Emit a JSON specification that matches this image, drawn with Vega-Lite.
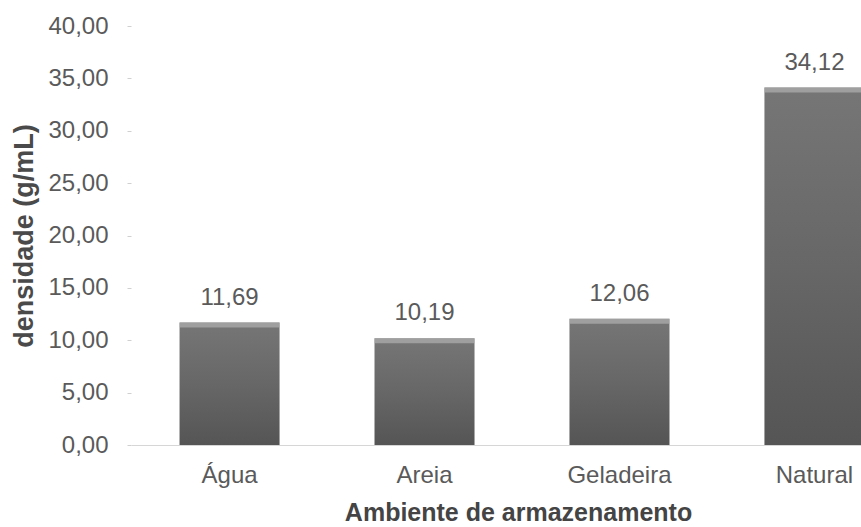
{
  "$schema": "https://vega.github.io/schema/vega-lite/v6.json",
  "width": 730,
  "height": 419,
  "autosize": {"type": "none"},
  "padding": {"left": 131, "top": 26, "right": 0, "bottom": 82},
  "background": "white",
  "config": {
    "view": {"stroke": null},
    "font": "Liberation Sans",
    "locale": {
      "number": {"decimal": ",", "thousands": ".", "grouping": [3], "currency": ["R$ ", ""]}
    }
  },
  "data": {
    "values": [
      {"ambiente": "Água", "densidade": 11.69},
      {"ambiente": "Areia", "densidade": 10.19},
      {"ambiente": "Geladeira", "densidade": 12.06},
      {"ambiente": "Natural", "densidade": 34.12}
    ]
  },
  "encoding": {
    "x": {
      "field": "ambiente",
      "type": "nominal",
      "sort": null,
      "scale": {"range": [0, 782], "paddingInner": 0.487, "paddingOuter": 0.249},
      "axis": {
        "labelAngle": 0,
        "labelFontSize": 24,
        "labelColor": "#5a5a5a",
        "labelPadding": 18,
        "ticks": false,
        "domainColor": "#d6d6d6",
        "title": "Ambiente de armazenamento",
        "titleFontSize": 25,
        "titleFontWeight": "bold",
        "titleColor": "#444444",
        "titleBaseline": "top",
        "titleX": 387,
        "titleY": 55
      }
    },
    "y": {
      "field": "densidade",
      "type": "quantitative",
      "scale": {"domain": [0, 40]},
      "axis": {
        "values": [0, 5, 10, 15, 20, 25, 30, 35, 40],
        "format": ".2f",
        "grid": false,
        "domain": false,
        "tickSize": 4,
        "tickColor": "#d0d0d0",
        "labelFontSize": 24,
        "labelColor": "#5a5a5a",
        "labelPadding": 19,
        "title": "densidade (g/mL)",
        "titleFontSize": 27,
        "titleFontWeight": "bold",
        "titleColor": "#4a4a4a",
        "titlePadding": 9
      }
    }
  },
  "layer": [
    {
      "mark": {
        "type": "bar",
        "color": {
          "gradient": "linear",
          "x1": 0, "y1": 0, "x2": 0, "y2": 1,
          "stops": [
            {"offset": 0, "color": "#767676"},
            {"offset": 0.5, "color": "#676767"},
            {"offset": 1, "color": "#555555"}
          ]
        }
      }
    },
    {
      "mark": {"type": "tick", "color": "#b0b0b0", "thickness": 5, "size": 100, "yOffset": 2.5}
    },
    {
      "mark": {"type": "text", "baseline": "alphabetic", "dy": -18, "fontSize": 24, "color": "#5a5a5a"},
      "encoding": {
        "text": {"field": "densidade", "type": "quantitative", "format": ".2f"}
      }
    }
  ]
}
